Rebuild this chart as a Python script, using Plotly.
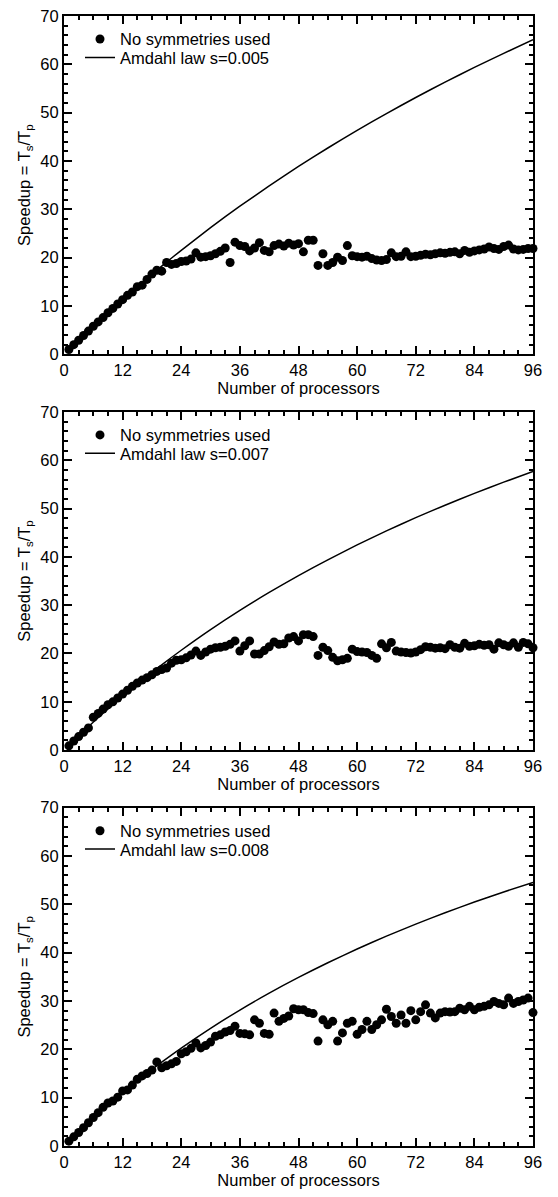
import plotly.graph_objects as go

# ---------------- data ----------------
PROCS = list(range(1, 97))

SPEEDUP_A = [1.0, 2.0, 2.9, 3.9, 4.8, 5.8, 6.7, 7.6, 8.6, 9.5,
             10.4, 11.3, 12.2, 12.9, 14.0, 14.3, 15.5, 16.6, 17.4, 17.2,
             19.0, 18.6, 18.8, 19.2, 19.3, 19.7, 21.0, 20.1, 20.2, 20.4,
             20.8, 21.3, 22.0, 19.0, 23.2, 22.5, 22.3, 21.4, 22.0, 23.1,
             21.5, 21.2, 22.5, 22.8, 22.4, 23.0, 22.6, 22.9, 21.2, 23.6,
             23.6, 18.4, 20.8, 18.4, 19.0, 20.1, 19.4, 22.5, 20.4, 20.2,
             20.1, 20.3, 19.8, 19.5, 19.4, 19.6, 21.0, 20.2, 20.3, 21.2,
             20.2, 20.3, 20.5, 20.7, 20.6, 20.8, 21.0, 20.9, 21.1, 21.2,
             20.8, 21.5, 21.1, 21.4, 21.6, 21.8, 22.2, 21.9, 21.7, 22.3,
             22.6, 21.8, 21.6, 21.7, 21.9, 21.9]

SPEEDUP_B = [0.9, 1.9, 2.8, 3.7, 4.6, 6.8, 7.6, 8.5, 9.4, 10.0,
             10.8, 11.6, 12.4, 13.2, 13.9, 14.5, 15.0, 15.6, 16.3, 16.7,
             17.0, 18.0, 18.6, 18.7, 19.1, 19.7, 20.5, 19.6, 20.3, 20.9,
             21.2, 21.3, 21.5, 21.9, 22.6, 20.5, 21.6, 22.6, 19.9, 19.9,
             20.6, 21.4, 22.4, 21.9, 22.0, 23.2, 23.5, 22.6, 23.9, 23.9,
             23.5, 19.6, 21.3, 20.6, 19.2, 18.5, 18.7, 19.0, 20.9, 20.4,
             20.3, 20.2, 19.6, 19.0, 22.0, 21.2, 22.3, 20.5, 20.3, 20.2,
             20.1, 20.3, 20.8, 21.4, 21.3, 21.1, 21.2, 21.0, 21.8, 21.3,
             21.1, 22.1, 21.5, 21.6, 21.9, 21.7, 21.8, 20.9, 22.2, 21.8,
             21.5, 22.2, 21.3, 22.3, 22.0, 21.2]

SPEEDUP_C = [1.0, 1.9, 2.8, 3.8, 4.8, 5.9, 6.9, 8.0, 8.9, 9.3,
             10.1, 11.4, 11.6, 12.6, 13.8, 14.5, 15.0, 15.7, 17.4, 16.2,
             16.6, 17.0, 17.5, 19.1, 19.5, 20.2, 21.3, 20.3, 20.8, 21.5,
             22.7, 23.0, 23.6, 23.9, 24.8, 23.3, 23.2, 23.0, 26.1, 25.4,
             23.3, 23.1, 27.5, 25.8, 26.4, 26.9, 28.4, 28.2, 28.2, 27.6,
             27.4, 21.7, 26.1, 25.1, 25.8, 21.7, 23.4, 25.4, 25.8, 23.1,
             24.1, 25.8, 24.1, 25.1, 26.1, 28.3, 26.8, 25.4, 27.1, 25.4,
             28.0, 26.1, 27.8, 29.2, 27.5, 26.5, 27.5, 27.8, 27.7, 27.8,
             28.5, 28.2, 28.9, 28.2, 28.7, 28.9, 29.2, 29.9, 29.5, 29.2,
             30.6, 29.5, 29.9, 30.2, 30.6, 27.6]

AMDAHL_P = [1, 4, 8, 12, 16, 20, 24, 30, 36, 42, 48, 54, 60, 66, 72, 78, 84, 90, 96]
AMDAHL_A = [1.0, 3.94, 7.73, 11.37, 14.88, 18.26, 21.52, 26.20, 30.64, 34.85,
            38.87, 42.69, 46.33, 49.81, 53.14, 56.32, 59.36, 62.28, 65.08]
AMDAHL_B = [1.0, 3.92, 7.63, 11.14, 14.48, 17.65, 20.67, 24.94, 28.92, 32.63,
            36.12, 39.39, 42.46, 45.36, 48.10, 50.68, 53.13, 55.45, 57.66]
AMDAHL_C = [1.0, 3.91, 7.58, 11.03, 14.29, 17.36, 20.27, 24.35, 28.13, 31.63,
            34.88, 37.92, 40.76, 43.42, 45.92, 48.27, 50.48, 52.57, 54.55]

POINTS_LABEL = "No symmetries used"
LINE_LABELS = ["Amdahl law s=0.005", "Amdahl law s=0.007", "Amdahl law s=0.008"]
X_TITLE = "Number of processors"
Y_TITLE = "Speedup = T<sub>s</sub>/T<sub>p</sub>"

# ---------------- figure ----------------
W, H = 558, 1197
ML, MR, MT, MB = 64, 25, 7, 51
PANEL_H, GAP = 341, 58
PLOT_H = H - MT - MB

FONT = "Liberation Sans, Arial, Helvetica, sans-serif"
FS = 16.5

fig = go.Figure()

series = [(SPEEDUP_A, AMDAHL_A), (SPEEDUP_B, AMDAHL_B), (SPEEDUP_C, AMDAHL_C)]
layout = dict(
    width=W, height=H,
    margin=dict(l=ML, r=MR, t=MT, b=MB, pad=0),
    paper_bgcolor="white", plot_bgcolor="white",
    font=dict(family=FONT, size=FS, color="black"),
    showlegend=True,
)


def py(px):
    """image-pixel y (from top) -> paper fraction"""
    return (H - MB - px) / PLOT_H


for i, (pts, amd) in enumerate(series):
    sfx = "" if i == 0 else str(i + 1)
    xa, ya = "x" + sfx, "y" + sfx
    leg_pts = "legend" if i == 0 else "legend" + str(2 * i + 1)
    leg_line = "legend" + str(2 * i + 2)
    fig.add_trace(go.Scatter(
        x=AMDAHL_P, y=amd, mode="lines", name=LINE_LABELS[i],
        line=dict(color="black", width=1.5, shape="spline", smoothing=0.6),
        xaxis=xa, yaxis=ya, legend=leg_line, hoverinfo="skip",
    ))
    fig.add_trace(go.Scatter(
        x=PROCS, y=pts, mode="markers", name=POINTS_LABEL,
        marker=dict(color="black", size=9, line=dict(width=0)),
        xaxis=xa, yaxis=ya, legend=leg_pts, cliponaxis=False,
    ))

    top_px = MT + i * (PANEL_H + GAP)          # from top of image
    bot_px = top_px + PANEL_H

    common = dict(
        showline=True, linecolor="black", linewidth=2, mirror="allticks",
        ticks="inside", ticklen=8, tickwidth=1.5, tickcolor="black",
        showgrid=False, zeroline=False,
        tickfont=dict(family=FONT, size=FS, color="black"),
        fixedrange=True,
    )
    layout["xaxis" + sfx] = dict(
        common, range=[0, 96], dtick=12, tick0=0, anchor=ya, domain=[0, 1],
        minor=dict(dtick=3, tick0=0, ticklen=4, tickwidth=1.5, ticks="inside",
                   tickcolor="black", showgrid=False),
        title=dict(text=X_TITLE, font=dict(family=FONT, size=FS), standoff=3),
    )
    layout["yaxis" + sfx] = dict(
        common, range=[0, 70], dtick=10, tick0=0, anchor=xa,
        domain=[py(bot_px), py(top_px)],
        minor=dict(dtick=2, tick0=0, ticklen=4, tickwidth=1.5, ticks="inside",
                   tickcolor="black", showgrid=False),
        title=dict(text=Y_TITLE, font=dict(family=FONT, size=FS), standoff=6),
    )
    for leg, off in ((leg_pts, 23.5), (leg_line, 42.0)):
        layout[leg] = dict(
            x=(80 - ML) / (W - ML - MR), xanchor="left",
            y=py(top_px + off), yanchor="middle",
            bgcolor="rgba(0,0,0,0)", borderwidth=0,
            font=dict(family=FONT, size=FS, color="black"),
            itemclick=False, itemdoubleclick=False,
        )

fig.update_layout(**layout)
fig.write_html("out.html")
